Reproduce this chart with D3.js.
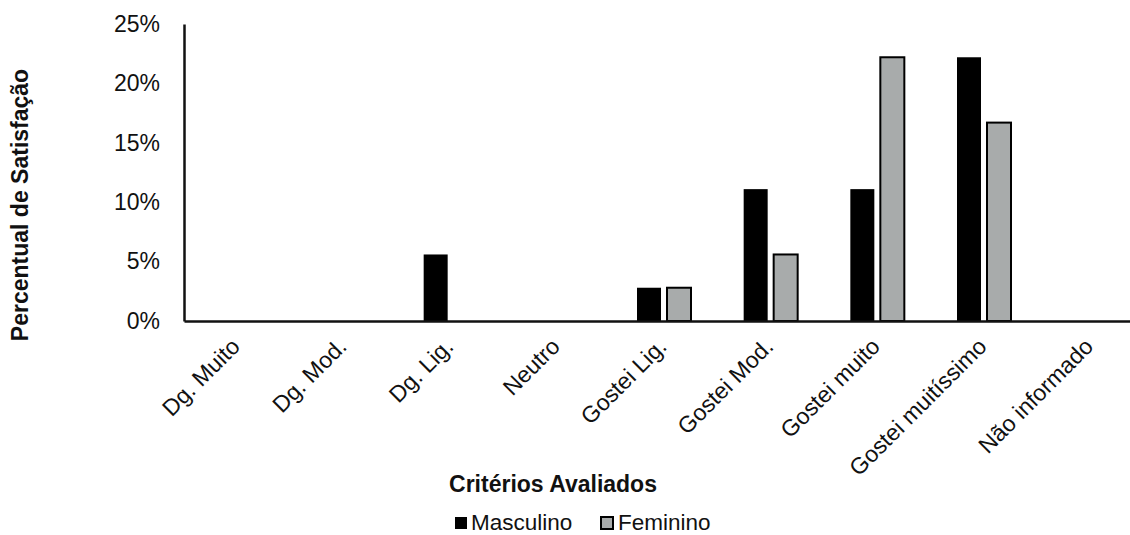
<!DOCTYPE html>
<html>
<head>
<meta charset="utf-8">
<script src="https://cdn.jsdelivr.net/npm/d3@7"></script>
<style>
  html, body { margin: 0; padding: 0; background: #fff; }
  svg { display: block; font-family: "Liberation Sans", Arial, sans-serif; }
</style>
</head>
<body>
<svg id="chart" width="1130" height="535"></svg>
<script>
// Categories of the satisfaction scale
const categories = ["Dg. Muito", "Dg. Mod.", "Dg. Lig.", "Neutro", "Gostei Lig.",
  "Gostei Mod.", "Gostei muito", "Gostei muitíssimo", "Não informado"];
// Share of respondents (%) per category, by sex
const masculino = [0, 0, 5.6, 0, 2.8, 11.1, 11.1, 22.2, 0];
const feminino  = [0, 0, 0, 0, 2.8, 5.6, 22.2, 16.7, 0];
const seriesNames = ["Masculino", "Feminino"];
const yTicks = [0, 5, 10, 15, 20, 25];

const colors = { Masculino: "#000000", Feminino: "#a8abab" };

const svg = d3.select("#chart");
const plotLeft = 184, plotRight = 1144, plotTop = 24, plotBottom = 321;

const x = d3.scaleBand().domain(categories).range([plotLeft, plotRight]).padding(0);
const x1 = d3.scaleBand().domain(seriesNames)
  .range([x.bandwidth() / 2 - 27, x.bandwidth() / 2 + 27])
  .paddingInner(0.2).paddingOuter(0);
const y = d3.scaleLinear().domain([0, 25]).range([plotBottom, plotTop]);

const rows = categories.map((c, i) => ({ cat: c, Masculino: masculino[i], Feminino: feminino[i] }));

// Bars
const groups = svg.append("g").selectAll("g").data(rows).join("g")
  .attr("transform", d => `translate(${x(d.cat)},0)`);
groups.selectAll("rect")
  .data(d => seriesNames.map(s => ({ s, v: d[s] })).filter(e => e.v > 0))
  .join("rect")
  .attr("x", e => x1(e.s))
  .attr("width", x1.bandwidth())
  .attr("y", e => y(e.v))
  .attr("height", e => y(0) - y(e.v))
  .attr("fill", e => colors[e.s])
  .attr("stroke", "#000")
  .attr("stroke-width", e => e.s === "Feminino" ? 2 : 0);

// Y axis: line and percentage labels, no tick marks
const yAxis = svg.append("g").attr("transform", `translate(${plotLeft},0)`)
  .call(d3.axisLeft(y).tickValues(yTicks).tickSize(0).tickPadding(24)
    .tickFormat(d => d + "%"));
yAxis.select(".domain").attr("stroke", "#111").attr("stroke-width", 2.5);
yAxis.selectAll("text").attr("font-size", 23).attr("fill", "#111")
  .attr("font-family", "Liberation Sans, Arial, sans-serif");

// X axis: baseline and rotated category labels
const xAxis = svg.append("g").attr("transform", `translate(0,${plotBottom})`)
  .call(d3.axisBottom(x).tickSize(0).tickFormat(""));
xAxis.select(".domain").attr("stroke", "#111").attr("stroke-width", 2.5);

svg.append("g").selectAll("text").data(categories).join("text")
  .attr("transform", d => `translate(${x(d) + x.bandwidth() / 2 + 4},348) rotate(-45)`)
  .attr("text-anchor", "end")
  .attr("font-size", 23)
  .attr("fill", "#111")
  .text(d => d);

// Axis titles
svg.append("text")
  .attr("transform", "translate(28,205) rotate(-90)")
  .attr("text-anchor", "middle")
  .attr("font-size", 23).attr("font-weight", "bold").attr("fill", "#111")
  .text("Percentual de Satisfação");

svg.append("text")
  .attr("x", 553).attr("y", 492)
  .attr("text-anchor", "middle")
  .attr("font-size", 23).attr("font-weight", "bold").attr("fill", "#111")
  .text("Critérios Avaliados");

// Legend
const legendItems = [
  { name: "Masculino", sx: 455, tx: 471 },
  { name: "Feminino", sx: 601, tx: 618 }
];
const lg = svg.append("g").selectAll("g").data(legendItems).join("g");
lg.append("rect")
  .attr("x", d => d.sx).attr("y", 517)
  .attr("width", 12).attr("height", 12)
  .attr("fill", d => colors[d.name])
  .attr("stroke", "#000").attr("stroke-width", d => d.name === "Feminino" ? 2 : 0);
lg.append("text")
  .attr("x", d => d.tx).attr("y", 530)
  .attr("font-size", 22.5).attr("fill", "#111")
  .text(d => d.name);
</script>
</body>
</html>
